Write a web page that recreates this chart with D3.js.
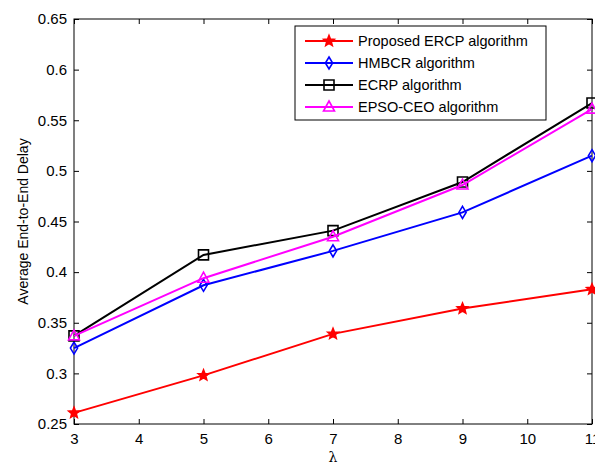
<!DOCTYPE html>
<html><head><meta charset="utf-8">
<script src="https://cdn.jsdelivr.net/npm/d3@7"></script>
<style>
html,body{margin:0;padding:0;background:#fff;}
svg{display:block;font-family:"Liberation Sans",Arial,sans-serif;}
</style></head>
<body><svg id="c" width="595" height="465"></svg>
<script>
const xValues = [3, 5, 7, 9, 11];
const seriesNames = ["Proposed ERCP algorithm", "HMBCR algorithm", "ECRP algorithm", "EPSO-CEO algorithm"];
const proposedERCP = [0.261, 0.298, 0.339, 0.364, 0.383];
const hmbcr = [0.325, 0.387, 0.421, 0.459, 0.515];
const ecrp = [0.337, 0.417, 0.441, 0.489, 0.567];
const epsoCeo = [0.337, 0.394, 0.435, 0.486, 0.561];
const xTicks = [3, 4, 5, 6, 7, 8, 9, 10, 11];
const yTicks = [0.25, 0.3, 0.35, 0.4, 0.45, 0.5, 0.55, 0.6, 0.65];

const colors = ["#ff0000", "#0000ff", "#000000", "#ff00ff"];
const markers = ["star", "diamond", "square", "triangle"];
const allSeries = [proposedERCP, hmbcr, ecrp, epsoCeo];

const L = 74, R = 592, T = 19, B = 424;
const x = d3.scaleLinear().domain([3, 11]).range([L, R]);
const y = d3.scaleLinear().domain([0.25, 0.65]).range([B, T]);
const svg = d3.select("#c");

svg.append("rect").attr("x", L).attr("y", T).attr("width", R - L).attr("height", B - T)
  .attr("fill", "none").attr("stroke", "#000").attr("stroke-width", 1);

const fmt = d => String(+d.toFixed(2));
const gx = svg.append("g").attr("transform", `translate(0,${B})`)
  .call(d3.axisBottom(x).tickValues(xTicks).tickSize(-5).tickPadding(9).tickFormat(d3.format("d")));
const gxt = svg.append("g").attr("transform", `translate(0,${T})`)
  .call(d3.axisTop(x).tickValues(xTicks).tickSize(-5).tickFormat(""));
const gy = svg.append("g").attr("transform", `translate(${L},0)`)
  .call(d3.axisLeft(y).tickValues(yTicks).tickSize(-5).tickPadding(7).tickFormat(fmt));
const gyr = svg.append("g").attr("transform", `translate(${R},0)`)
  .call(d3.axisRight(y).tickValues(yTicks).tickSize(-5).tickFormat(""));
[gx, gxt, gy, gyr].forEach(g => {
  g.select(".domain").remove();
  g.selectAll(".tick line").attr("stroke", "#000");
  g.selectAll("text").attr("fill", "#000").attr("font-size", 15)
    .attr("font-family", "Liberation Sans, Arial, sans-serif");
});
gx.selectAll("text").attr("dy", "0.71em");

svg.append("text").attr("x", (L + R) / 2).attr("y", 462).attr("text-anchor", "middle")
  .attr("font-size", 14).attr("font-family", "DejaVu Serif, serif").text("λ");
svg.append("text").attr("transform", `translate(28,${(T + B) / 2}) rotate(-90)`)
  .attr("text-anchor", "middle").attr("font-size", 14).text("Average End-to-End Delay");

function markerPath(type) {
  if (type === "star") {
    const pts = [];
    for (let i = 0; i < 10; i++) {
      const r = i % 2 === 0 ? 5.5 : 2.4;
      const a = -Math.PI / 2 + i * Math.PI / 5;
      pts.push([r * Math.cos(a), r * Math.sin(a)]);
    }
    return "M" + pts.map(p => p.join(",")).join("L") + "Z";
  }
  if (type === "diamond") return "M0,-6L3.6,0L0,6L-3.6,0Z";
  if (type === "square") return "M-5,-5L5,-5L5,5L-5,5Z";
  if (type === "triangle") return "M0,-6L5.5,4L-5.5,4Z";
}

const line = d3.line().x((d, i) => x(xValues[i])).y(d => y(d));
allSeries.forEach((s, k) => {
  const g = svg.append("g");
  g.append("path").datum(s).attr("d", line).attr("fill", "none")
    .attr("stroke", colors[k]).attr("stroke-width", 2);
  g.selectAll("path.m").data(s).enter().append("path").attr("class", "m")
    .attr("transform", (d, i) => `translate(${x(xValues[i])},${y(d)})`)
    .attr("d", markerPath(markers[k]))
    .attr("fill", markers[k] === "star" ? colors[k] : "none")
    .attr("stroke", colors[k]).attr("stroke-width", 1.6);
});

const lg = svg.append("g");
lg.append("rect").attr("x", 295).attr("y", 26).attr("width", 251).attr("height", 94)
  .attr("fill", "#fff").attr("stroke", "#000").attr("stroke-width", 1);
seriesNames.forEach((n, k) => {
  const yy = 41 + k * 22;
  lg.append("line").attr("x1", 305).attr("x2", 353).attr("y1", yy).attr("y2", yy)
    .attr("stroke", colors[k]).attr("stroke-width", 2);
  lg.append("path").attr("transform", `translate(329,${yy})`).attr("d", markerPath(markers[k]))
    .attr("fill", markers[k] === "star" ? colors[k] : "none")
    .attr("stroke", colors[k]).attr("stroke-width", 1.6);
  lg.append("text").attr("x", 358).attr("y", yy).attr("dy", "0.36em")
    .attr("font-size", 14.5).attr("fill", "#000").text(n);
});
</script></body></html>
